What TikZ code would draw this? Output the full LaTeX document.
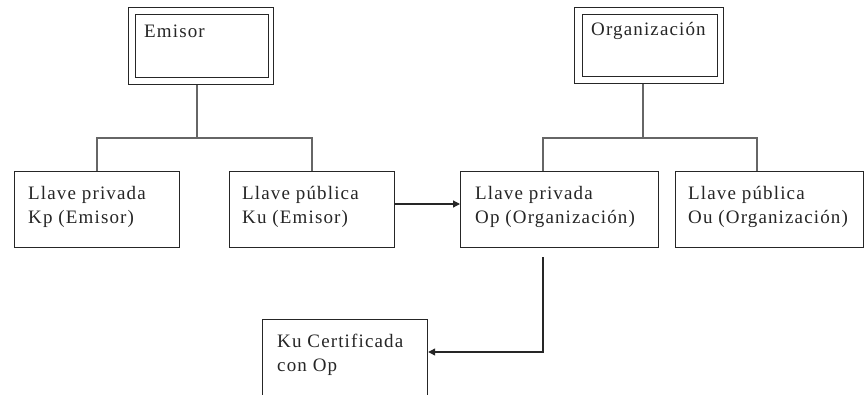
\documentclass[tikz,border=0pt]{standalone}
\usepackage{fontspec}
\setmainfont{Liberation Serif}[LetterSpace=6]
\usetikzlibrary{arrows.meta}
\begin{document}
\begin{tikzpicture}[x=1pt,y=-1pt,
  box/.style={draw=black!85,line width=1.2pt,rectangle,inner sep=0pt,anchor=north west},
  txt/.style={anchor=base west,inner sep=0pt,font=\fontsize{19}{24}\selectfont,text=black!85},
  tree/.style={draw=black!60,line width=1.5pt},
  arr/.style={draw=black!85,line width=1.2pt,-{Triangle[length=7pt,width=7pt]}}]
\clip (0,0) rectangle (865,394);
\fill[white] (0,0) rectangle (865,394);
% top boxes (double frames)
\node[box,minimum width=145pt,minimum height=77pt] (emo) at (128,7) {};
\node[box,minimum width=133pt,minimum height=63pt] (emi) at (135,14) {};
\node[txt] (emt) at (144,37) {Emisor};
\node[box,minimum width=149pt,minimum height=76pt] (oro) at (574,7) {};
\node[box,minimum width=135pt,minimum height=62pt] (ori) at (582,14) {};
\node[txt] (ort) at (591,35) {Organización};
% second row
\node[box,minimum width=165pt,minimum height=76pt] (kp) at (14,171) {};
\node[txt] (kpt1) at (28,199) {Llave privada};
\node[txt] (kpt2) at (28,223) {Kp (Emisor)};
\node[box,minimum width=165pt,minimum height=76pt] (ku) at (229,171) {};
\node[txt] (kut1) at (242,199) {Llave pública};
\node[txt] (kut2) at (242,223) {Ku (Emisor)};
\node[box,minimum width=198pt,minimum height=76pt] (op) at (460,171) {};
\node[txt] (opt1) at (475,199) {Llave privada};
\node[txt] (opt2) at (475,223) {Op (Organización)};
\node[box,minimum width=188pt,minimum height=76pt] (ou) at (675,171) {};
\node[txt] (out1) at (688,199) {Llave pública};
\node[txt] (out2) at (688,223) {Ou (Organización)};
% bottom box
\node[box,minimum width=165pt,minimum height=100pt] (kc) at (262,319) {};
\node[txt] (kct1) at (277,347) {Ku Certificada};
\node[txt] (kct2) at (277,371) {con Op};
% trees
\coordinate (ej) at (197,138);
\coordinate (oj) at (643,138);
\draw[tree] (emo.south -| ej) -- (ej);
\draw[tree] (kp.north) |- (ej) -| (ku.north);
\draw[tree] (oro.south -| oj) -- (oj);
\draw[tree] (op.north -| 543,0) |- (oj) -| (ou.north -| 757,0);
% arrows
\draw[arr] (ku.east |- 0,204) -- (op.west |- 0,204);
\coordinate (ops) at (543,257);
\draw[arr] (ops) |- (kc.east |- 0,352);
\end{tikzpicture}
\end{document}
